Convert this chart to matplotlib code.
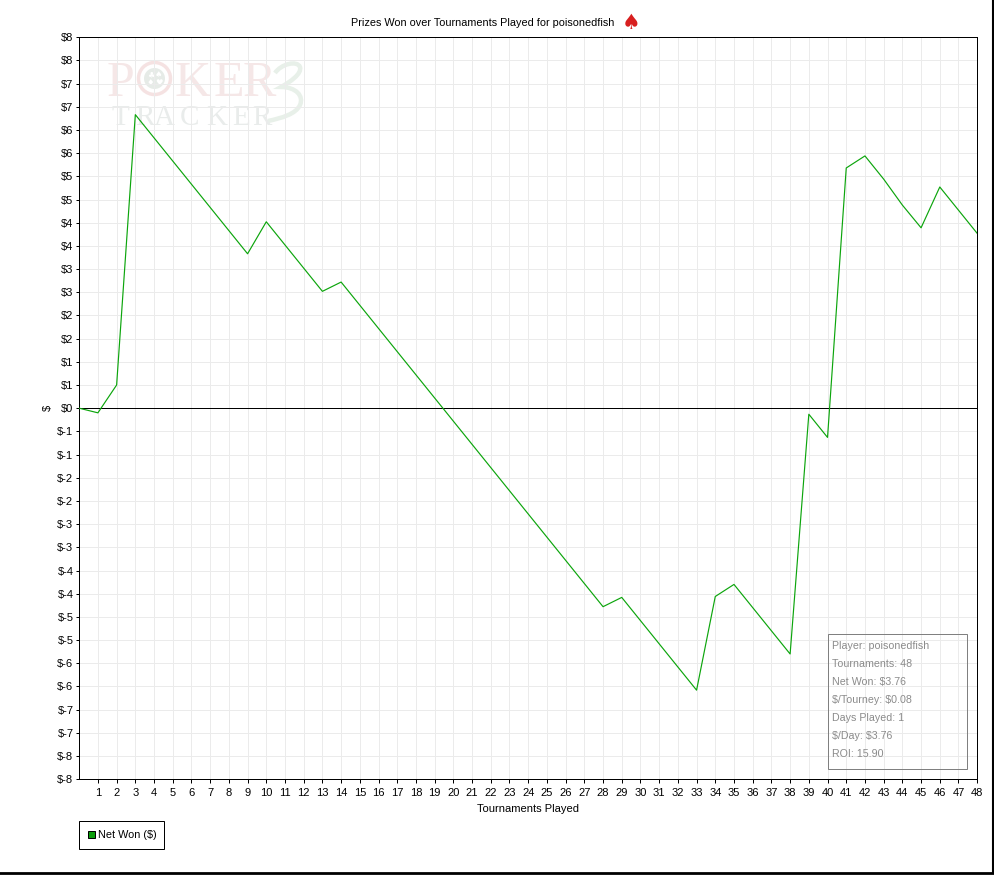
import matplotlib
matplotlib.use('Agg')
import matplotlib.pyplot as plt
from matplotlib.lines import Line2D
from matplotlib.patches import Circle, PathPatch, Rectangle
from matplotlib.path import Path

tournaments = list(range(0, 49))
net_won = [0.00, -0.10, 0.50, 6.33, 5.83, 5.33, 4.83, 4.33, 3.83, 3.33,
           4.02, 3.52, 3.02, 2.52, 2.72, 2.22, 1.72, 1.22, 0.72, 0.22,
           -0.28, -0.78, -1.28, -1.78, -2.28, -2.78, -3.28, -3.78, -4.28, -4.08,
           -4.58, -5.08, -5.58, -6.08, -4.06, -3.80, -4.30, -4.80, -5.30, -0.13,
           -0.63, 5.18, 5.44, 4.94, 4.38, 3.89, 4.77, 4.27, 3.77]

y_ticks = [8, 7.5, 7, 6.5, 6, 5.5, 5, 4.5, 4, 3.5, 3, 2.5, 2, 1.5, 1, 0.5, 0,
           -0.5, -1, -1.5, -2, -2.5, -3, -3.5, -4, -4.5, -5, -5.5, -6, -6.5, -7, -7.5, -8]
y_labels = ['$8', '$8', '$7', '$7', '$6', '$6', '$5', '$5', '$4', '$4', '$3', '$3',
            '$2', '$2', '$1', '$1', '$0', '$-1', '$-1', '$-2', '$-2', '$-3', '$-3',
            '$-4', '$-4', '$-5', '$-5', '$-6', '$-6', '$-7', '$-7', '$-8', '$-8']
x_ticks = list(range(1, 49))

stats = ['Player: poisonedfish', 'Tournaments: 48', 'Net Won: $3.76',
         '$/Tourney: $0.08', 'Days Played: 1', '$/Day: $3.76', 'ROI: 15.90']

W, H = 994, 875
PX = 0.72  # one pixel in points at dpi 100
plt.rcParams['font.family'] = ['Liberation Sans', 'DejaVu Sans']
plt.rcParams['text.parse_math'] = False


def fx(px):
    return px / W


def fy(py):
    return 1 - py / H


fig = plt.figure(figsize=(W / 100, H / 100), dpi=100)
ax = fig.add_axes([fx(79.2), fy(779.2), (977.2 - 79.2) / W, (779.2 - 37.2) / H])
ax.set_xlim(0, 48)
ax.set_ylim(-8, 8)

ax.set_xticks(x_ticks)
ax.set_yticks(y_ticks)
ax.set_yticklabels(y_labels)
ax.tick_params(axis='x', labelsize=8, length=2.9, width=PX, pad=3.1, color='black')
ax.tick_params(axis='y', labelsize=8, length=2.5, width=PX, pad=1.7, color='black')
ax.grid(True, color='#ebebeb', linewidth=PX)
ax.set_axisbelow(True)
for s in ['top', 'left', 'right', 'bottom']:
    ax.spines[s].set_linewidth(PX)

# PokerTracker 3 watermark, drawn on the figure under the axes contents
red = '#f5e7e7'
grey = '#e9eceb'
ax.patch.set_alpha(0)
for letter, x in [('P', 107), ('K', 175), ('E', 214), ('R', 243)]:
    fig.text(fx(x), fy(96), letter, family='Liberation Serif', fontsize=36, color=red,
             ha='left', va='baseline', zorder=-1)
for letter, x in [('T', 111), ('R', 135), ('A', 154), ('C', 180), ('K', 206), ('E', 232), ('R', 252)]:
    fig.text(fx(x), fy(125), letter, family='Liberation Serif', fontsize=21, color=grey,
             ha='left', va='baseline', zorder=-1)
fig.add_artist(Circle((154.5, H - 78.5), 16, transform=None, fc='white', ec='#f5e2e2', lw=2.5, zorder=-1))
fig.add_artist(Circle((154.5, H - 78.5), 10.5, transform=None, fc='#e6ebe7', ec='none', zorder=-1))
for suit, dx, dy in [('\u2663', -4, 4), ('\u2660', 4, 4), ('\u2666', -4, -4), ('\u2665', 4, -4)]:
    fig.text(fx(154.5 + dx), fy(78.5 - dy), suit, family='DejaVu Sans', fontsize=6, color='white',
             ha='center', va='center', zorder=-1)
three = Path([(275, H - 73),
              (281, H - 64), (297, H - 60), (300, H - 67),
              (302, H - 74), (290, H - 82), (281, H - 87),
              (296, H - 87), (304, H - 96), (300, H - 105),
              (296, H - 114), (282, H - 118), (268, H - 121)],
             [Path.MOVETO] + [Path.CURVE4] * 12)
fig.add_artist(PathPatch(three, transform=None, fc='none', ec='#e8f0e9', lw=3.2, zorder=-1))

ax.axhline(0, color='black', linewidth=PX, zorder=2)
ax.plot(tournaments, net_won, color='#0ca50c', linewidth=0.85, zorder=3)

ax.set_xlabel('Tournaments Played', fontsize=8, labelpad=5)
ax.set_ylabel('$', fontsize=8, labelpad=3.2)

fig.text(fx(483), fy(22.5), 'Prizes Won over Tournaments Played for poisonedfish',
         fontsize=7.8, ha='center', va='center')
fig.text(fx(631), fy(23), '\u2660', fontsize=15, color='#d81f1f', ha='center', va='center',
         family='DejaVu Sans')

# stats box
fig.add_artist(Rectangle((fx(827.9), fy(768.6)), (967 - 827.9) / W, (768.6 - 634) / H,
                         transform=fig.transFigure, fc='none', ec='#808080', lw=PX))
for i, line in enumerate(stats):
    fig.text(fx(832), fy(646.2 + i * 18), line, fontsize=7.7, color='#8b8b8b', ha='left', va='center')

# legend box
fig.add_artist(Rectangle((fx(79.2), fy(848.5)), (163.5 - 79.2) / W, (848.5 - 820.5) / H,
                         transform=fig.transFigure, fc='white', ec='black', lw=PX))
fig.add_artist(Rectangle((fx(87.5), fy(837.5)), 7 / W, 7 / H,
                         transform=fig.transFigure, fc='#0a9c0a', ec='black', lw=PX))
fig.text(fx(98), fy(834.5), 'Net Won ($)', fontsize=7.8, ha='left', va='center')

# black window edge at right and bottom
fig.add_artist(Line2D([fx(992.5), fx(992.5)], [3 / H, 1], color='black', lw=1.5))
fig.add_artist(Line2D([0, fx(993)], [2 / H, 2 / H], color='black', lw=2))

fig.savefig('out.png', dpi=100)
